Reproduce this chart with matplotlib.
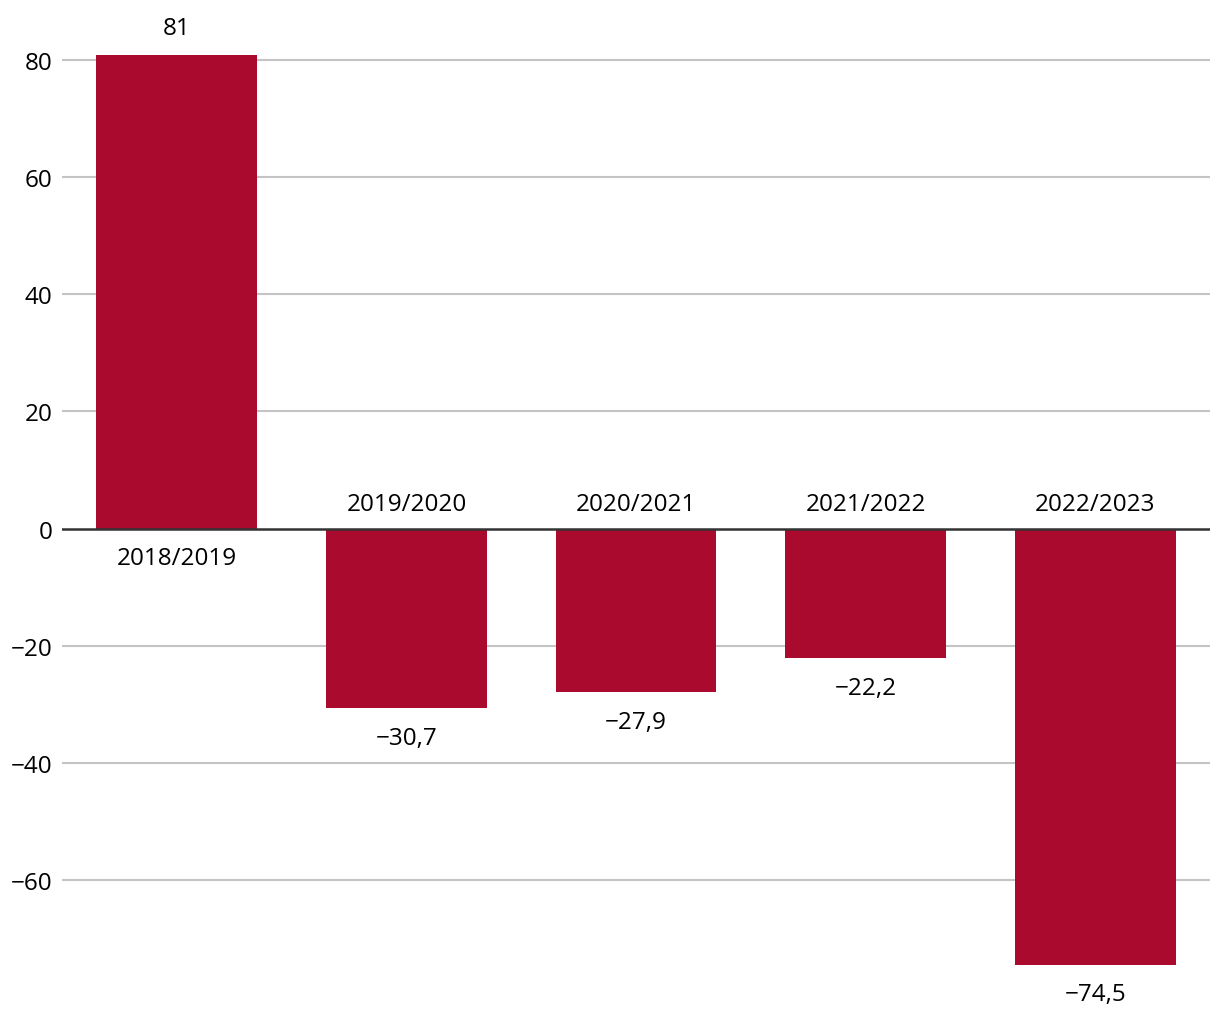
import numpy as np
import matplotlib.pyplot as plt

plt.rcParams['font.family'] = ['Open Sans', 'DejaVu Sans']

# data
seasons = ['2018/2019', '2019/2020', '2020/2021', '2021/2022', '2022/2023']
values = [81, -30.7, -27.9, -22.2, -74.5]
value_labels = ['81', '\u221230,7', '\u221227,9', '\u221222,2', '\u221274,5']
yticks = [-60, -40, -20, 0, 20, 40, 60, 80]

bar_color = '#a90a2e'
fs = 17.5

fig = plt.figure(figsize=(12.2, 10.2), dpi=100)
ax = fig.add_axes([62 / 1220, 1 - 965.5 / 1020, 1148 / 1220, 910 / 1020])

x = np.arange(len(seasons))
ax.bar(x, values, width=0.7, color=bar_color, zorder=2)

ax.set_xlim(-0.5, len(seasons) - 0.5)
ax.set_ylim(-74.5, 81)

ax.set_yticks(yticks)
ax.set_yticklabels([str(t).replace('-', '\u2212') for t in yticks], fontsize=fs)
ax.tick_params(axis='y', length=0, pad=7)
ax.set_xticks([])

for t in yticks:
    if t == 0:
        continue
    ax.axhline(t, color='#c4c4c4', lw=1.5, zorder=1)
ax.axhline(0, color='#333333', lw=1.8, zorder=3)

for s in ax.spines.values():
    s.set_visible(False)

# labels: value outside the bar end, season on the other side of zero
for xi, v, lab, s in zip(x, values, value_labels, seasons):
    if v >= 0:
        ax.annotate(lab, (xi, v), xytext=(0, 26), textcoords='offset pixels',
                    ha='center', va='center', fontsize=fs, annotation_clip=False)
        ax.annotate(s, (xi, 0), xytext=(0, -29), textcoords='offset pixels',
                    ha='center', va='center', fontsize=fs)
    else:
        ax.annotate(lab, (xi, v), xytext=(0, -30), textcoords='offset pixels',
                    ha='center', va='center', fontsize=fs, annotation_clip=False)
        ax.annotate(s, (xi, 0), xytext=(0, 25), textcoords='offset pixels',
                    ha='center', va='center', fontsize=fs)

fig.savefig('out.png', dpi=100)
